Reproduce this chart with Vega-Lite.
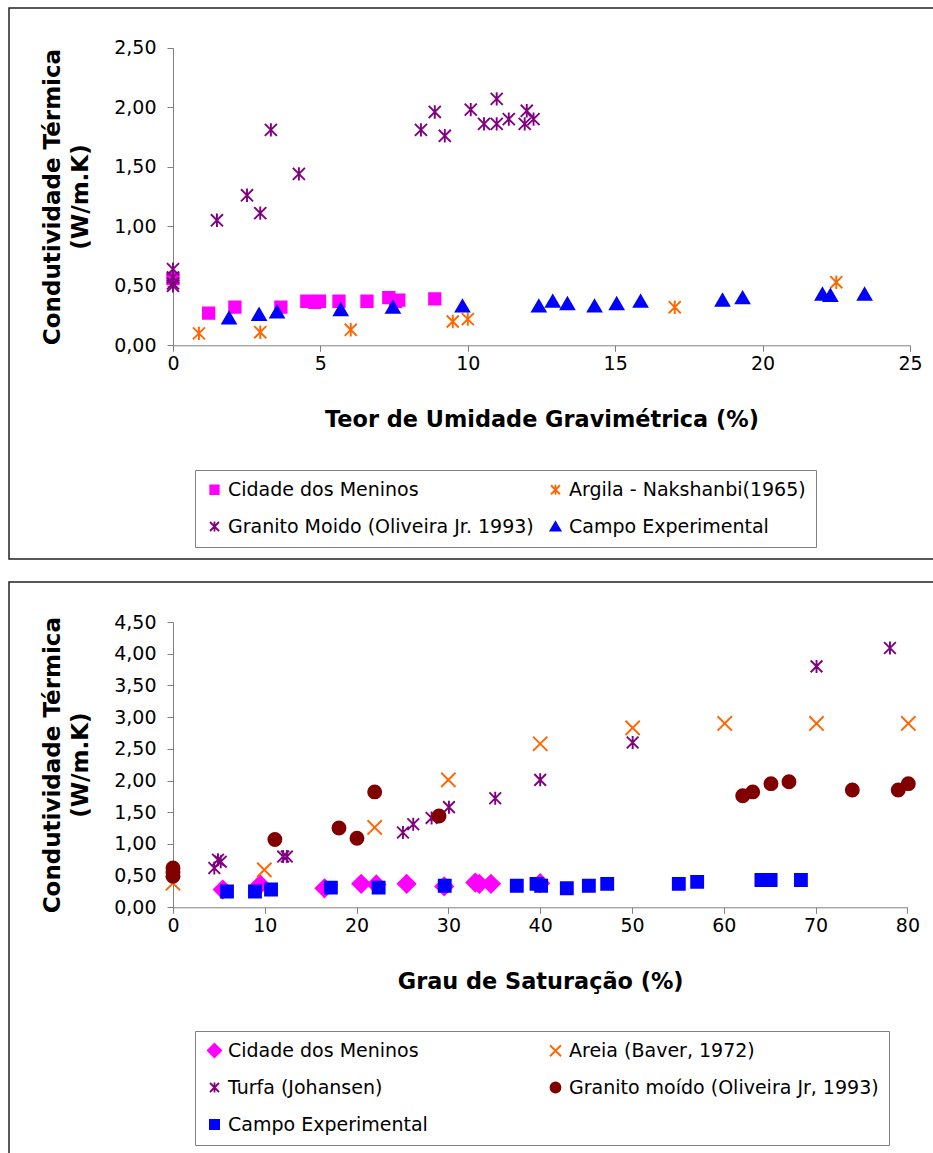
{
  "$schema": "https://vega.github.io/schema/vega-lite/v6.json",
  "padding": {"left": 8, "top": 7, "right": 0, "bottom": 0},
  "spacing": 21,
  "config": {
    "view": {"stroke": "#222222", "strokeWidth": 1.5},
    "font": "DejaVu Sans",
    "axis": {"grid": false, "labelFlush": false, "domainColor": "#808080", "tickColor": "#808080", "tickSize": 6, "labelFont": "DejaVu Sans", "labelFontSize": 19, "labelColor": "#000000", "titleFont": "DejaVu Sans", "titleFontWeight": "bold", "titleColor": "#000000"},
    "legend": {"title": null, "columns": 2, "direction": "horizontal", "strokeColor": "#808080", "padding": 10, "symbolSize": 100, "symbolStrokeWidth": 1.8, "labelFont": "DejaVu Sans", "labelFontSize": 19, "labelColor": "#000000", "labelOffset": 4, "labelLimit": 500}
  },
  "resolve": {
    "scale": {"fill": "independent", "stroke": "independent", "shape": "independent"},
    "legend": {"fill": "independent", "stroke": "independent", "shape": "independent"}
  },
  "datasets": {
    "top": [
      {"s": "Cidade dos Meninos", "x": 0, "y": 0.56},
      {"s": "Cidade dos Meninos", "x": 1.21, "y": 0.27},
      {"s": "Cidade dos Meninos", "x": 2.1, "y": 0.32},
      {"s": "Cidade dos Meninos", "x": 3.66, "y": 0.32},
      {"s": "Cidade dos Meninos", "x": 4.54, "y": 0.37},
      {"s": "Cidade dos Meninos", "x": 4.81, "y": 0.36},
      {"s": "Cidade dos Meninos", "x": 4.97, "y": 0.37},
      {"s": "Cidade dos Meninos", "x": 5.63, "y": 0.37},
      {"s": "Cidade dos Meninos", "x": 6.58, "y": 0.37},
      {"s": "Cidade dos Meninos", "x": 7.32, "y": 0.4},
      {"s": "Cidade dos Meninos", "x": 7.55, "y": 0.37},
      {"s": "Cidade dos Meninos", "x": 7.66, "y": 0.38},
      {"s": "Cidade dos Meninos", "x": 8.88, "y": 0.39},
      {"s": "Argila - Nakshanbi(1965)", "x": 0.88, "y": 0.1},
      {"s": "Argila - Nakshanbi(1965)", "x": 2.96, "y": 0.11},
      {"s": "Argila - Nakshanbi(1965)", "x": 6.03, "y": 0.13},
      {"s": "Argila - Nakshanbi(1965)", "x": 9.49, "y": 0.2},
      {"s": "Argila - Nakshanbi(1965)", "x": 10.0, "y": 0.22},
      {"s": "Argila - Nakshanbi(1965)", "x": 17.02, "y": 0.32},
      {"s": "Argila - Nakshanbi(1965)", "x": 22.5, "y": 0.53},
      {"s": "Granito Moido (Oliveira Jr. 1993)", "x": 0, "y": 0.64},
      {"s": "Granito Moido (Oliveira Jr. 1993)", "x": 0, "y": 0.57},
      {"s": "Granito Moido (Oliveira Jr. 1993)", "x": 0, "y": 0.52},
      {"s": "Granito Moido (Oliveira Jr. 1993)", "x": 0, "y": 0.5},
      {"s": "Granito Moido (Oliveira Jr. 1993)", "x": 1.49, "y": 1.05},
      {"s": "Granito Moido (Oliveira Jr. 1993)", "x": 2.51, "y": 1.26},
      {"s": "Granito Moido (Oliveira Jr. 1993)", "x": 2.96, "y": 1.11},
      {"s": "Granito Moido (Oliveira Jr. 1993)", "x": 3.32, "y": 1.81},
      {"s": "Granito Moido (Oliveira Jr. 1993)", "x": 4.27, "y": 1.44},
      {"s": "Granito Moido (Oliveira Jr. 1993)", "x": 8.41, "y": 1.81},
      {"s": "Granito Moido (Oliveira Jr. 1993)", "x": 8.88, "y": 1.96},
      {"s": "Granito Moido (Oliveira Jr. 1993)", "x": 9.22, "y": 1.76},
      {"s": "Granito Moido (Oliveira Jr. 1993)", "x": 10.1, "y": 1.98},
      {"s": "Granito Moido (Oliveira Jr. 1993)", "x": 10.55, "y": 1.86},
      {"s": "Granito Moido (Oliveira Jr. 1993)", "x": 10.98, "y": 2.07},
      {"s": "Granito Moido (Oliveira Jr. 1993)", "x": 10.98, "y": 1.86},
      {"s": "Granito Moido (Oliveira Jr. 1993)", "x": 11.39, "y": 1.9},
      {"s": "Granito Moido (Oliveira Jr. 1993)", "x": 11.93, "y": 1.86},
      {"s": "Granito Moido (Oliveira Jr. 1993)", "x": 12.0, "y": 1.97},
      {"s": "Granito Moido (Oliveira Jr. 1993)", "x": 12.23, "y": 1.9},
      {"s": "Campo Experimental", "x": 1.9, "y": 0.23},
      {"s": "Campo Experimental", "x": 2.92, "y": 0.26},
      {"s": "Campo Experimental", "x": 3.53, "y": 0.28},
      {"s": "Campo Experimental", "x": 5.69, "y": 0.3},
      {"s": "Campo Experimental", "x": 7.46, "y": 0.32},
      {"s": "Campo Experimental", "x": 9.82, "y": 0.33},
      {"s": "Campo Experimental", "x": 12.41, "y": 0.33},
      {"s": "Campo Experimental", "x": 12.88, "y": 0.37},
      {"s": "Campo Experimental", "x": 13.38, "y": 0.35},
      {"s": "Campo Experimental", "x": 14.3, "y": 0.33},
      {"s": "Campo Experimental", "x": 15.05, "y": 0.35},
      {"s": "Campo Experimental", "x": 15.86, "y": 0.37},
      {"s": "Campo Experimental", "x": 18.64, "y": 0.38},
      {"s": "Campo Experimental", "x": 19.32, "y": 0.4},
      {"s": "Campo Experimental", "x": 22.03, "y": 0.43},
      {"s": "Campo Experimental", "x": 22.3, "y": 0.42},
      {"s": "Campo Experimental", "x": 23.46, "y": 0.43}
    ],
    "bot": [
      {"s": "Cidade dos Meninos", "x": 5.41, "y": 0.28},
      {"s": "Cidade dos Meninos", "x": 9.5, "y": 0.36},
      {"s": "Cidade dos Meninos", "x": 16.5, "y": 0.3},
      {"s": "Cidade dos Meninos", "x": 20.5, "y": 0.37},
      {"s": "Cidade dos Meninos", "x": 22.15, "y": 0.36},
      {"s": "Cidade dos Meninos", "x": 25.45, "y": 0.37},
      {"s": "Cidade dos Meninos", "x": 29.55, "y": 0.33},
      {"s": "Cidade dos Meninos", "x": 32.93, "y": 0.39},
      {"s": "Cidade dos Meninos", "x": 33.37, "y": 0.37},
      {"s": "Cidade dos Meninos", "x": 34.64, "y": 0.37},
      {"s": "Cidade dos Meninos", "x": 40.0, "y": 0.38},
      {"s": "Areia (Baver, 1972)", "x": 0, "y": 0.38},
      {"s": "Areia (Baver, 1972)", "x": 9.95, "y": 0.59},
      {"s": "Areia (Baver, 1972)", "x": 21.97, "y": 1.26},
      {"s": "Areia (Baver, 1972)", "x": 30.0, "y": 2.01},
      {"s": "Areia (Baver, 1972)", "x": 40.0, "y": 2.58},
      {"s": "Areia (Baver, 1972)", "x": 50.07, "y": 2.83},
      {"s": "Areia (Baver, 1972)", "x": 60.1, "y": 2.9},
      {"s": "Areia (Baver, 1972)", "x": 70.1, "y": 2.9},
      {"s": "Areia (Baver, 1972)", "x": 80.1, "y": 2.9},
      {"s": "Turfa (Johansen)", "x": 4.5, "y": 0.62},
      {"s": "Turfa (Johansen)", "x": 4.9, "y": 0.75},
      {"s": "Turfa (Johansen)", "x": 5.2, "y": 0.72},
      {"s": "Turfa (Johansen)", "x": 12.0, "y": 0.8},
      {"s": "Turfa (Johansen)", "x": 12.4, "y": 0.8},
      {"s": "Turfa (Johansen)", "x": 25.05, "y": 1.18},
      {"s": "Turfa (Johansen)", "x": 26.17, "y": 1.31},
      {"s": "Turfa (Johansen)", "x": 28.17, "y": 1.41},
      {"s": "Turfa (Johansen)", "x": 30.06, "y": 1.58},
      {"s": "Turfa (Johansen)", "x": 35.1, "y": 1.72},
      {"s": "Turfa (Johansen)", "x": 40.0, "y": 2.01},
      {"s": "Turfa (Johansen)", "x": 50.07, "y": 2.6},
      {"s": "Turfa (Johansen)", "x": 70.1, "y": 3.8},
      {"s": "Turfa (Johansen)", "x": 78.1, "y": 4.09},
      {"s": "Granito moído (Oliveira Jr, 1993)", "x": 0, "y": 0.62},
      {"s": "Granito moído (Oliveira Jr, 1993)", "x": 0, "y": 0.55},
      {"s": "Granito moído (Oliveira Jr, 1993)", "x": 0, "y": 0.49},
      {"s": "Granito moído (Oliveira Jr, 1993)", "x": 11.1, "y": 1.07},
      {"s": "Granito moído (Oliveira Jr, 1993)", "x": 18.08, "y": 1.25},
      {"s": "Granito moído (Oliveira Jr, 1993)", "x": 20.04, "y": 1.09},
      {"s": "Granito moído (Oliveira Jr, 1993)", "x": 21.97, "y": 1.82},
      {"s": "Granito moído (Oliveira Jr, 1993)", "x": 28.98, "y": 1.44},
      {"s": "Granito moído (Oliveira Jr, 1993)", "x": 62.06, "y": 1.76},
      {"s": "Granito moído (Oliveira Jr, 1993)", "x": 63.15, "y": 1.82},
      {"s": "Granito moído (Oliveira Jr, 1993)", "x": 65.14, "y": 1.95},
      {"s": "Granito moído (Oliveira Jr, 1993)", "x": 67.1, "y": 1.98},
      {"s": "Granito moído (Oliveira Jr, 1993)", "x": 74.0, "y": 1.85},
      {"s": "Granito moído (Oliveira Jr, 1993)", "x": 79.0, "y": 1.85},
      {"s": "Granito moído (Oliveira Jr, 1993)", "x": 80.1, "y": 1.95},
      {"s": "Campo Experimental", "x": 5.88, "y": 0.25},
      {"s": "Campo Experimental", "x": 8.93, "y": 0.25},
      {"s": "Campo Experimental", "x": 10.68, "y": 0.28},
      {"s": "Campo Experimental", "x": 17.2, "y": 0.31},
      {"s": "Campo Experimental", "x": 22.4, "y": 0.31},
      {"s": "Campo Experimental", "x": 29.6, "y": 0.34},
      {"s": "Campo Experimental", "x": 37.45, "y": 0.34},
      {"s": "Campo Experimental", "x": 39.6, "y": 0.37},
      {"s": "Campo Experimental", "x": 40.1, "y": 0.34},
      {"s": "Campo Experimental", "x": 42.9, "y": 0.3},
      {"s": "Campo Experimental", "x": 45.3, "y": 0.34},
      {"s": "Campo Experimental", "x": 47.3, "y": 0.37},
      {"s": "Campo Experimental", "x": 55.1, "y": 0.37},
      {"s": "Campo Experimental", "x": 57.1, "y": 0.4},
      {"s": "Campo Experimental", "x": 64.1, "y": 0.43},
      {"s": "Campo Experimental", "x": 65.1, "y": 0.43},
      {"s": "Campo Experimental", "x": 68.4, "y": 0.43}
    ]
  },
  "vconcat": [
    {
      "width": 930,
      "height": 551,
      "data": {"name": "top"},
      "mark": {"type": "point", "opacity": 1, "strokeWidth": 1.9, "size": 180},
      "encoding": {
        "x": {"field": "x", "type": "quantitative",
          "scale": {"domain": [0, 25], "range": [164, 901], "nice": false, "zero": false},
          "axis": {"orient": "bottom", "offset": -213.7, "values": [0, 5, 10, 15, 20, 25], "format": "d", "labelPadding": 3, "title": "Teor de Umidade Gravimétrica (%)", "titleFontSize": 22.4, "titlePadding": 35}},
        "y": {"field": "y", "type": "quantitative",
          "scale": {"domain": [0, 2.5], "range": [337.3, 39.7], "nice": false, "zero": false},
          "axis": {"orient": "left", "offset": -164, "values": [0, 0.5, 1, 1.5, 2, 2.5], "labelExpr": "replace(format(datum.value, '.2f'), '.', ',')", "labelPadding": 11, "title": ["Condutividade Térmica", "(W/m.K)"], "titleFontSize": 23, "titleLineHeight": 28, "titlePadding": 21}},
        "fill": {"field": "s", "type": "nominal",
          "scale": {"domain": ["Cidade dos Meninos", "Argila - Nakshanbi(1965)", "Granito Moido (Oliveira Jr. 1993)", "Campo Experimental"], "range": ["#FF00FF", "transparent", "transparent", "#0000FF"]},
          "legend": {"orient": "none", "legendX": 186, "legendY": 462, "rowPadding": 17, "columnPadding": 12}},
        "stroke": {"field": "s", "type": "nominal",
          "scale": {"domain": ["Cidade dos Meninos", "Argila - Nakshanbi(1965)", "Granito Moido (Oliveira Jr. 1993)", "Campo Experimental"], "range": ["#FF00FF", "#FF6600", "#800080", "#0000FF"]},
          "legend": {"orient": "none", "legendX": 186, "legendY": 462, "rowPadding": 17, "columnPadding": 12}},
        "shape": {"field": "s", "type": "nominal",
          "scale": {"domain": ["Cidade dos Meninos", "Argila - Nakshanbi(1965)", "Granito Moido (Oliveira Jr. 1993)", "Campo Experimental"], "range": ["M-0.85,-0.85H0.85V0.85H-0.85Z", "M0,-1L0,1M-0.9,-0.9L0.9,0.9M-0.9,0.9L0.9,-0.9", "M0,-1L0,1M-0.9,-0.9L0.9,0.9M-0.9,0.9L0.9,-0.9", "M0,-0.88L1,0.84H-1Z"]},
          "legend": {"orient": "none", "legendX": 186, "legendY": 462, "rowPadding": 17, "columnPadding": 12}}
      }
    },
    {
      "width": 930,
      "height": 575,
      "data": {"name": "bot"},
      "mark": {"type": "point", "opacity": 1, "strokeWidth": 1.9, "size": 169},
      "encoding": {
        "x": {"field": "x", "type": "quantitative",
          "scale": {"domain": [0, 80], "range": [164, 898.4], "nice": false, "zero": false},
          "axis": {"orient": "bottom", "offset": -249.7, "values": [0, 10, 20, 30, 40, 50, 60, 70, 80], "format": "d", "labelPadding": 3, "title": "Grau de Saturação (%)", "titleFontSize": 22.4, "titlePadding": 35}},
        "y": {"field": "y", "type": "quantitative",
          "scale": {"domain": [0, 4.5], "range": [325.3, 40], "nice": false, "zero": false},
          "axis": {"orient": "left", "offset": -164, "values": [0, 0.5, 1, 1.5, 2, 2.5, 3, 3.5, 4, 4.5], "labelExpr": "replace(format(datum.value, '.2f'), '.', ',')", "labelPadding": 11, "title": ["Condutividade Térmica", "(W/m.K)"], "titleFontSize": 23, "titleLineHeight": 28, "titlePadding": 21}},
        "fill": {"field": "s", "type": "nominal",
          "scale": {"domain": ["Cidade dos Meninos", "Areia (Baver, 1972)", "Turfa (Johansen)", "Granito moído (Oliveira Jr, 1993)", "Campo Experimental"], "range": ["#FF00FF", "transparent", "transparent", "#800000", "#0000FF"]},
          "legend": {"orient": "none", "legendX": 186, "legendY": 449, "rowPadding": 17, "columnPadding": 118}},
        "stroke": {"field": "s", "type": "nominal",
          "scale": {"domain": ["Cidade dos Meninos", "Areia (Baver, 1972)", "Turfa (Johansen)", "Granito moído (Oliveira Jr, 1993)", "Campo Experimental"], "range": ["#FF00FF", "#FF6600", "#800080", "#800000", "#0000FF"]},
          "legend": {"orient": "none", "legendX": 186, "legendY": 449, "rowPadding": 17, "columnPadding": 118}},
        "shape": {"field": "s", "type": "nominal",
          "scale": {"domain": ["Cidade dos Meninos", "Areia (Baver, 1972)", "Turfa (Johansen)", "Granito moído (Oliveira Jr, 1993)", "Campo Experimental"], "range": ["M0,-1.35L1.35,0L0,1.35L-1.35,0Z", "M-1.1,-1.1L1.1,1.1M-1.1,1.1L1.1,-1.1", "M0,-1L0,1M-0.9,-0.9L0.9,0.9M-0.9,0.9L0.9,-0.9", "circle", "M-0.92,-0.92H0.92V0.92H-0.92Z"]},
          "legend": {"orient": "none", "legendX": 186, "legendY": 449, "rowPadding": 17, "columnPadding": 118}}
      }
    }
  ]
}
